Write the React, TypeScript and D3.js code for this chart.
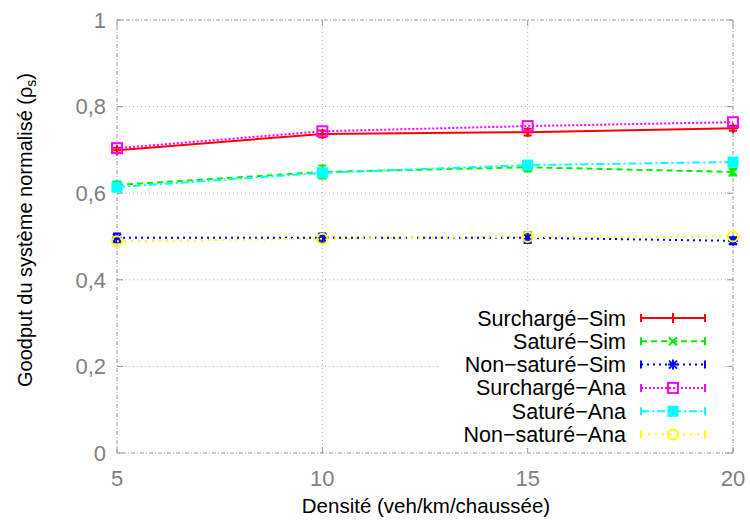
import React from "react";
import * as d3 from "d3";

const densities = [5, 10, 15, 20];
const xTicks = [5, 10, 15, 20];
const yTicks = [0, 0.2, 0.4, 0.6, 0.8, 1];

const seriesNames = ["Surchargé−Sim", "Saturé−Sim", "Non−saturé−Sim", "Surchargé−Ana", "Saturé−Ana", "Non−saturé−Ana"];
const surchargeSim = [0.699, 0.737, 0.741, 0.750];
const satureSim = [0.619, 0.649, 0.660, 0.649];
const nonSatureSim = [0.497, 0.497, 0.497, 0.490];
const surchargeAna = [0.704, 0.743, 0.755, 0.764];
const satureAna = [0.614, 0.647, 0.665, 0.672];
const nonSatureAna = [0.489, 0.495, 0.499, 0.500];
const surchargeErr = [0.006, 0.008, 0.008, 0.006];
const satureErr = [0.008, 0.015, 0.010, 0.008];
const nonSatureErr = [0.010, 0.010, 0.012, 0.008];

const W = 750, H = 525;
const m = { left: 117, right: 733, top: 20, bottom: 453 };

const x = d3.scaleLinear().domain([5, 20]).range([m.left, m.right]);
const y = d3.scaleLinear().domain([0, 1]).range([m.bottom, m.top]);

type S = { name: string; vals: number[]; err?: number[]; color: string; dash: string; marker: string };
const series: S[] = [
  { name: seriesNames[0], vals: surchargeSim, err: surchargeErr, color: "#ff0000", dash: "", marker: "plus" },
  { name: seriesNames[1], vals: satureSim, err: satureErr, color: "#00ee00", dash: "6,4", marker: "x" },
  { name: seriesNames[2], vals: nonSatureSim, err: nonSatureErr, color: "#0000ff", dash: "2,4", marker: "star" },
  { name: seriesNames[3], vals: surchargeAna, color: "#ff00ff", dash: "2,2", marker: "square" },
  { name: seriesNames[4], vals: satureAna, color: "#00ffff", dash: "8,3,2,3", marker: "fsquare" },
  { name: seriesNames[5], vals: nonSatureAna, color: "#ffff00", dash: "2,5", marker: "circle" },
];

function Marker({ kind, cx, cy, color }: { kind: string; cx: number; cy: number; color: string }) {
  const r = 5;
  switch (kind) {
    case "plus":
      return <path d={`M${cx - r},${cy}H${cx + r}M${cx},${cy - r}V${cy + r}`} stroke={color} strokeWidth={2} />;
    case "x":
      return <path d={`M${cx - 4},${cy - 4}L${cx + 4},${cy + 4}M${cx - 4},${cy + 4}L${cx + 4},${cy - 4}`} stroke={color} strokeWidth={2} />;
    case "star":
      return (
        <g stroke={color} strokeWidth={2}>
          <path d={`M${cx - 4},${cy - 4}L${cx + 4},${cy + 4}M${cx - 4},${cy + 4}L${cx + 4},${cy - 4}M${cx - r},${cy}H${cx + r}M${cx},${cy - r}V${cy + r}`} />
        </g>
      );
    case "square":
      return <rect x={cx - 5} y={cy - 5} width={10} height={10} fill="none" stroke={color} strokeWidth={2} />;
    case "fsquare":
      return <rect x={cx - 5} y={cy - 5} width={10} height={10} fill={color} stroke={color} strokeWidth={1} />;
    case "circle":
      return <circle cx={cx} cy={cy} r={5} fill="none" stroke={color} strokeWidth={2} />;
  }
  return null;
}

export default function App() {
  const line = d3.line<number>().x((_, i) => x(densities[i])).y((v) => y(v));
  const font = "'Liberation Sans', Arial, Helvetica, sans-serif";
  const legTop = 318, legStep = 23.3;
  const lx0 = 641, lx1 = 705, ltx = 626;
  return (
    <svg width={W} height={H} style={{ position: "absolute", left: 0, top: 0 }} fontFamily={font}>
      <rect width={W} height={H} fill="white" />
      {/* grid */}
      <g stroke="#aaaaaa" strokeWidth={1} strokeDasharray="1,3">
        {yTicks.slice(1, -1).map((t) => (
          <line key={"gy" + t} x1={m.left} x2={m.right} y1={y(t)} y2={y(t)} />
        ))}
        {xTicks.slice(1, -1).map((t) => (
          <line key={"gx" + t} x1={x(t)} x2={x(t)} y1={m.top} y2={m.bottom} />
        ))}
      </g>
      {/* frame */}
      <rect x={m.left} y={m.top} width={m.right - m.left} height={m.bottom - m.top} fill="none" stroke="#999999" strokeWidth={1} strokeDasharray="4,2,1,2" />
      {/* ticks */}
      <g stroke="#999999" strokeWidth={1}>
        {yTicks.map((t) => (
          <g key={"ty" + t}>
            <line x1={m.left} x2={m.left + 6} y1={y(t)} y2={y(t)} />
            <line x1={m.right} x2={m.right - 6} y1={y(t)} y2={y(t)} />
          </g>
        ))}
        {xTicks.map((t) => (
          <g key={"tx" + t}>
            <line x1={x(t)} x2={x(t)} y1={m.bottom} y2={m.bottom - 6} />
            <line x1={x(t)} x2={x(t)} y1={m.top} y2={m.top + 6} />
          </g>
        ))}
      </g>
      {/* tick labels */}
      <g fill="#808080" fontSize={22}>
        {yTicks.map((t) => (
          <text key={"ly" + t} x={106} y={y(t)} dy="0.35em" textAnchor="end">
            {String(t).replace(".", ",")}
          </text>
        ))}
        {xTicks.map((t) => (
          <text key={"lx" + t} x={x(t)} y={486} textAnchor="middle">
            {t}
          </text>
        ))}
      </g>
      <text x={426} y={513} textAnchor="middle" fontSize={20.5} fill="#000">
        Densité (veh/km/chaussée)
      </text>
      <text transform="translate(32,230) rotate(-90)" textAnchor="middle" fontSize={20} fill="#000">
        Goodput du système normalisé (ρ<tspan fontSize={14} dy={4}>s</tspan><tspan dy={-4}>)</tspan>
      </text>
      {/* data */}
      {series.map((s) => (
        <g key={s.name}>
          <path d={line(s.vals) || ""} fill="none" stroke={s.color} strokeWidth={2} strokeDasharray={s.dash || undefined} />
          {s.err &&
            s.vals.map((v, i) => (
              <path
                key={"e" + i}
                d={`M${x(densities[i])},${y(v - s.err![i])}V${y(v + s.err![i])}M${x(densities[i]) - 4},${y(v - s.err![i])}h8M${x(densities[i]) - 4},${y(v + s.err![i])}h8`}
                stroke={s.color}
                strokeWidth={2}
                fill="none"
              />
            ))}
          {s.vals.map((v, i) => (
            <Marker key={"m" + i} kind={s.marker} cx={x(densities[i])} cy={y(v)} color={s.color} />
          ))}
        </g>
      ))}
      {/* legend */}
      <rect x={440} y={302} width={282} height={146} fill="white" />
      {series.map((s, i) => {
        const ly = legTop + i * legStep;
        return (
          <g key={"leg" + i}>
            <text x={ltx} y={ly} dy="0.35em" textAnchor="end" fontSize={21.5} fill="#000" textLength={undefined}>
              {s.name}
            </text>
            <line x1={lx0} x2={lx1} y1={ly} y2={ly} stroke={s.color} strokeWidth={2} strokeDasharray={s.dash || undefined} />
            <path d={`M${lx0},${ly - 4}v8M${lx1},${ly - 4}v8`} stroke={s.color} strokeWidth={2} />
            <Marker kind={s.marker} cx={(lx0 + lx1) / 2} cy={ly} color={s.color} />
          </g>
        );
      })}
    </svg>
  );
}
